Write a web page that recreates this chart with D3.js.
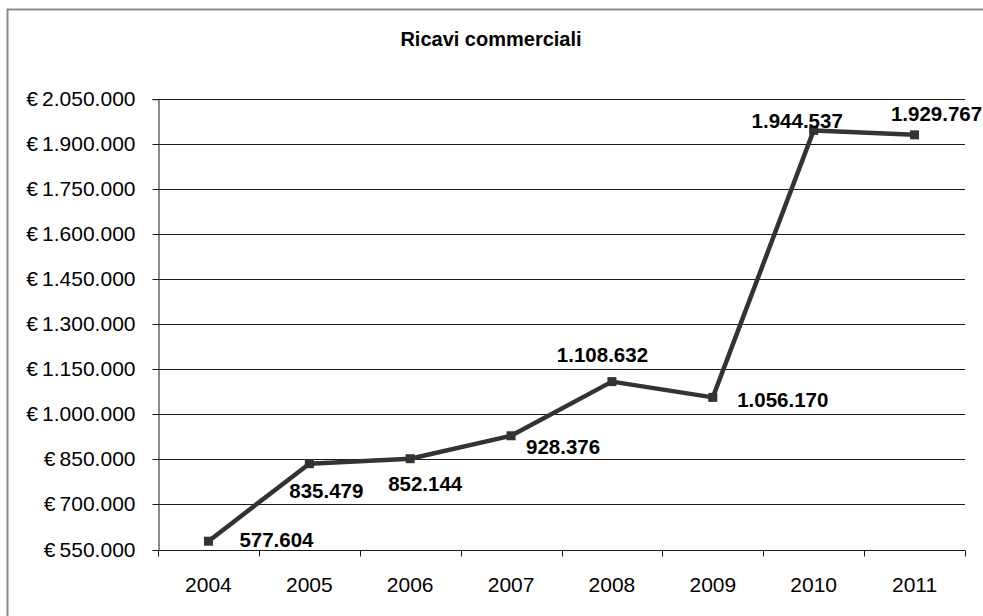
<!DOCTYPE html>
<html>
<head>
<meta charset="utf-8">
<script src="https://cdn.jsdelivr.net/npm/d3@7"></script>
<style>
  html, body { margin: 0; padding: 0; background: #fff; }
  svg { display: block; font-family: "Liberation Sans", Arial, sans-serif; }
</style>
</head>
<body>
<svg id="chart" width="983" height="616"></svg>
<script>
// Revenue series
const years = ["2004", "2005", "2006", "2007", "2008", "2009", "2010", "2011"];
const revenue = [577604, 835479, 852144, 928376, 1108632, 1056170, 1944537, 1929767];
const yTicks = [550000, 700000, 850000, 1000000, 1150000, 1300000, 1450000, 1600000, 1750000, 1900000, 2050000];
const chartTitle = "Ricavi commerciali";

// Label placement relative to each marker (label centre offset, px)
const labelOffsets = [
  [68, -1.5], [17, 27], [15, 25], [52, 11],
  [-9.5, -26.5], [70, 2], [-16.5, -10], [22, -21]
];

const it = d3.formatLocale({ decimal: ",", thousands: ".", grouping: [3], currency: ["€", ""] });
const fmt = it.format(",d");

const svg = d3.select("#chart");
const plot = { left: 158, right: 965, top: 98.7, bottom: 549.5 };

// Outer chart frame
svg.append("rect")
  .attr("x", 7.5).attr("y", 9.5)
  .attr("width", 1000).attr("height", 700)
  .attr("fill", "none").attr("stroke", "#8a8a8a").attr("stroke-width", 2);

svg.append("text")
  .attr("x", 491).attr("y", 46)
  .attr("text-anchor", "middle")
  .attr("font-size", 20).attr("font-weight", "bold")
  .attr("fill", "#000")
  .text(chartTitle);

const x = d3.scaleBand().domain(years).range([plot.left, plot.right]).padding(0);
const y = d3.scaleLinear().domain([yTicks[0], yTicks[yTicks.length - 1]]).range([plot.bottom, plot.top]);

// Horizontal gridlines
svg.append("g")
  .selectAll("line")
  .data(yTicks)
  .join("line")
  .attr("x1", plot.left).attr("x2", plot.right)
  .attr("y1", d => Math.round(y(d)) + 0.5).attr("y2", d => Math.round(y(d)) + 0.5)
  .attr("stroke", "#1a1a1a").attr("stroke-width", 1);

// Y axis: currency symbol, then the grouped amount
const yAxis = svg.append("g")
  .attr("transform", `translate(${plot.left + 0.5},0.5)`)
  .call(d3.axisLeft(y).tickValues(yTicks).tickSize(6).tickPadding(17)
    .tickFormat(d => "€\u2009" + fmt(d)));
yAxis.select(".domain").attr("stroke", "#1a1a1a");
yAxis.selectAll(".tick line").attr("stroke", "#1a1a1a");
yAxis.selectAll(".tick text")
  .attr("font-family", "'Liberation Sans', Arial, sans-serif")
  .attr("font-size", 21).attr("fill", "#000");
yAxis.selectAll(".tick").attr("transform", d => `translate(0,${Math.round(y(d))})`);

// X axis: labels centred in each band, ticks at band edges
const xAxis = svg.append("g")
  .attr("transform", `translate(0,${Math.round(plot.bottom) + 0.5})`)
  .call(d3.axisBottom(x).tickSize(0).tickPadding(27));
xAxis.select(".domain").attr("stroke", "#1a1a1a").attr("d", `M${plot.left},0H${plot.right}`);
xAxis.selectAll(".tick text")
  .attr("font-family", "'Liberation Sans', Arial, sans-serif")
  .attr("font-size", 21).attr("fill", "#000");
const edges = years.map(d => x(d)).concat([x(years[years.length - 1]) + x.bandwidth()]);
xAxis.append("g")
  .selectAll("line")
  .data(edges)
  .join("line")
  .attr("x1", d => Math.round(d) + 0.5).attr("x2", d => Math.round(d) + 0.5)
  .attr("y1", 0).attr("y2", 6)
  .attr("stroke", "#1a1a1a");

// Series line
const pts = years.map((yr, i) => ({ yr, v: revenue[i], cx: x(yr) + x.bandwidth() / 2, cy: y(revenue[i]), off: labelOffsets[i] }));

svg.append("path")
  .datum(pts)
  .attr("d", d3.line().x(d => d.cx).y(d => d.cy))
  .attr("fill", "none")
  .attr("stroke", "#333333")
  .attr("stroke-width", 4.5)
  .attr("stroke-linejoin", "round");

// Square markers
svg.append("g")
  .selectAll("rect")
  .data(pts)
  .join("rect")
  .attr("x", d => d.cx - 4.5).attr("y", d => d.cy - 4.5)
  .attr("width", 9).attr("height", 9)
  .attr("fill", "#333333");

// Value labels
svg.append("g")
  .selectAll("text")
  .data(pts)
  .join("text")
  .attr("x", d => d.cx + d.off[0])
  .attr("y", d => d.cy + d.off[1])
  .attr("dy", "0.36em")
  .attr("text-anchor", "middle")
  .attr("font-size", 20.5).attr("font-weight", "bold")
  .attr("fill", "#000")
  .text(d => fmt(d.v));
</script>
</body>
</html>
